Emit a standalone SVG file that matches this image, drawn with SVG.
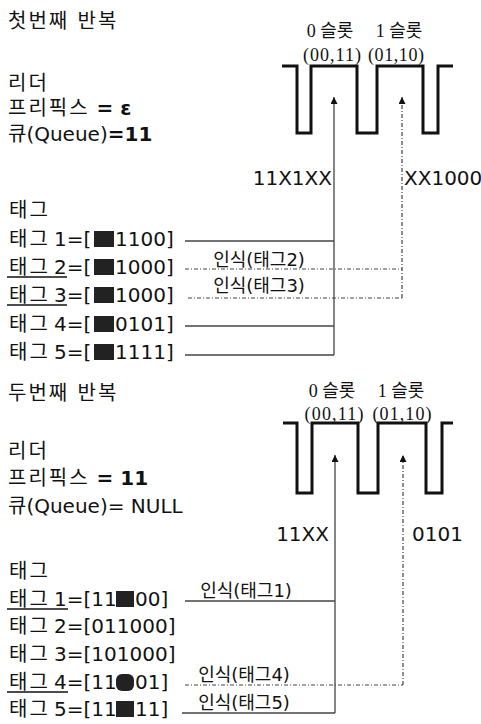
<svg xmlns="http://www.w3.org/2000/svg" width="481" height="724" viewBox="0 0 481 724">
<style>
.t{font-family:"DejaVu Sans","Noto Sans CJK KR",sans-serif;font-size:20px;fill:#111}
.k{letter-spacing:2px}
.b{font-weight:bold}
.s{font-family:"Liberation Serif","Noto Sans CJK KR",serif;font-size:18px;fill:#111}
.l{font-family:"DejaVu Sans","Noto Sans CJK KR",sans-serif;font-size:18px;fill:#111}
.wave{fill:none;stroke:#111;stroke-width:3;stroke-linejoin:miter}
.solid{stroke:#444;stroke-width:1.3;fill:none}
.dash{stroke:#444;stroke-width:1.2;fill:none;stroke-dasharray:4 2 1 2}
.ul{stroke:#111;stroke-width:1.5}
.box{fill:#222}
</style>
<defs>
<marker id="ah" markerWidth="8" markerHeight="8" refX="7" refY="3.5" orient="auto" markerUnits="userSpaceOnUse">
<path d="M0,0 L7,3.5 L0,7 z" fill="#111"/>
</marker>
</defs>

<!-- ===== First iteration ===== -->
<g id="title1"><text class="t k" x="8" y="28">첫번째 반복</text></g>
<g id="leader1">
<text class="t k" x="8" y="90">리더</text>
<text class="t" x="8" y="115"><tspan class="k">프리픽스</tspan><tspan class="b"> = ε</tspan></text>
<text class="t" x="8" y="141">큐(Queue)<tspan class="b">=11</tspan></text>
</g>
<g id="slots1">
<path class="wave" d="M282,66 H297 V133 H311 V66 H357 V133 H377 V66 H423 V133 H438 V66 H453"/>
<text class="s" x="330" y="37" text-anchor="middle">0 슬롯</text>
<text class="s" x="399" y="37" text-anchor="middle">1 슬롯</text>
<text class="s" x="332" y="61" text-anchor="middle" textLength="58">(00,11)</text>
<text class="s" x="396" y="61" text-anchor="middle" textLength="56">(01,10)</text>
</g>
<g id="resp1">
<text class="t" x="332" y="185" text-anchor="end">11X1XX</text>
<text class="t" x="404" y="185">XX1000</text>
</g>
<g id="tags1">
<text class="t k" x="9" y="217">태그</text>
<g id="tag1-1"><text class="t" y="246"><tspan class="k" x="9">태그</tspan><tspan x="54">1=[</tspan></text><rect class="box" x="94" y="231" width="20" height="16"/><text class="t" x="115" y="246">1100]</text></g>
<g id="tag1-2"><text class="t" y="274"><tspan class="k" x="9">태그</tspan><tspan x="54">2=[</tspan></text><rect class="box" x="94" y="259" width="20" height="16"/><text class="t" x="115" y="274">1000]</text><line class="ul" x1="7" y1="277" x2="67" y2="277"/></g>
<g id="tag1-3"><text class="t" y="302"><tspan class="k" x="9">태그</tspan><tspan x="54">3=[</tspan></text><rect class="box" x="94" y="287" width="20" height="16"/><text class="t" x="115" y="302">1000]</text><line class="ul" x1="7" y1="305" x2="67" y2="305"/></g>
<g id="tag1-4"><text class="t" y="331"><tspan class="k" x="9">태그</tspan><tspan x="54">4=[</tspan></text><rect class="box" x="94" y="316" width="20" height="16"/><text class="t" x="115" y="331">0101]</text></g>
<g id="tag1-5"><text class="t" y="359"><tspan class="k" x="9">태그</tspan><tspan x="54">5=[</tspan></text><rect class="box" x="94" y="344" width="20" height="16"/><text class="t" x="115" y="359">1111]</text></g>
</g>

<!-- ===== Second iteration ===== -->
<g id="title2"><text class="t k" x="8" y="400">두번째 반복</text></g>
<g id="leader2">
<text class="t k" x="8" y="458">리더</text>
<text class="t" x="8" y="485"><tspan class="k">프리픽스</tspan><tspan class="b"> = 11</tspan></text>
<text class="t" x="8" y="513">큐(Queue)= NULL</text>
</g>
<g id="slots2">
<path class="wave" d="M283,423 H297 V493 H312 V423 H358 V493 H378 V423 H426 V493 H442 V423 H453"/>
<text class="s" x="332" y="397" text-anchor="middle">0 슬롯</text>
<text class="s" x="401" y="397" text-anchor="middle">1 슬롯</text>
<text class="s" x="334" y="420" text-anchor="middle" textLength="59">(00,11)</text>
<text class="s" x="402" y="420" text-anchor="middle" textLength="59">(01,10)</text>
</g>
<g id="resp2">
<text class="t" x="329" y="541" text-anchor="end">11XX</text>
<text class="t" x="412" y="541">0101</text>
</g>
<g id="tags2">
<text class="t k" x="9" y="578">태그</text>
<g id="tag2-1"><text class="t" y="606"><tspan class="k" x="9">태그</tspan><tspan x="54">1=[11</tspan></text><rect class="box" x="116" y="591" width="18" height="16"/><text class="t" x="135" y="606">00]</text><line class="ul" x1="7" y1="609" x2="68" y2="609"/></g>
<g id="tag2-2"><text class="t" y="633"><tspan class="k" x="9">태그</tspan><tspan x="54">2=[011000]</tspan></text></g>
<g id="tag2-3"><text class="t" y="661"><tspan class="k" x="9">태그</tspan><tspan x="54">3=[101000]</tspan></text></g>
<g id="tag2-4"><text class="t" y="689"><tspan class="k" x="9">태그</tspan><tspan x="54">4=[11</tspan></text><rect class="box" x="116" y="674" width="18" height="17" rx="6"/><text class="t" x="135" y="689">01]</text><line class="ul" x1="7" y1="692" x2="68" y2="692"/></g>
<g id="tag2-5"><text class="t" y="716"><tspan class="k" x="9">태그</tspan><tspan x="54">5=[11</tspan></text><rect class="box" x="116" y="701" width="18" height="16"/><text class="t" x="135" y="716">11]</text></g>
</g>

<!-- ===== Connectors ===== -->
<g id="connectors">
<line class="solid" x1="334" y1="355" x2="334" y2="97" marker-end="url(#ah)"/>
<line class="dash" x1="402" y1="298" x2="402" y2="97" marker-end="url(#ah)"/>
<line class="solid" x1="185" y1="241" x2="334" y2="241"/>
<line class="dash" x1="185" y1="269" x2="402" y2="269"/>
<line class="dash" x1="188" y1="298" x2="402" y2="298"/>
<line class="solid" x1="185" y1="326" x2="334" y2="326"/>
<line class="solid" x1="185" y1="355" x2="334" y2="355"/>
<text class="l" x="259" y="266" text-anchor="middle">인식(태그2)</text>
<text class="l" x="259" y="292" text-anchor="middle">인식(태그3)</text>

<line class="solid" x1="335" y1="713" x2="335" y2="455" marker-end="url(#ah)"/>
<line class="dash" x1="403" y1="685" x2="403" y2="455" marker-end="url(#ah)"/>
<line class="solid" x1="185" y1="601" x2="335" y2="601"/>
<line class="dash" x1="185" y1="685" x2="403" y2="685"/>
<line class="solid" x1="182" y1="713" x2="335" y2="713"/>
<text class="l" x="246" y="597" text-anchor="middle">인식(태그1)</text>
<text class="l" x="244" y="681" text-anchor="middle">인식(태그4)</text>
<text class="l" x="244" y="709" text-anchor="middle">인식(태그5)</text>
</g>
</svg>
